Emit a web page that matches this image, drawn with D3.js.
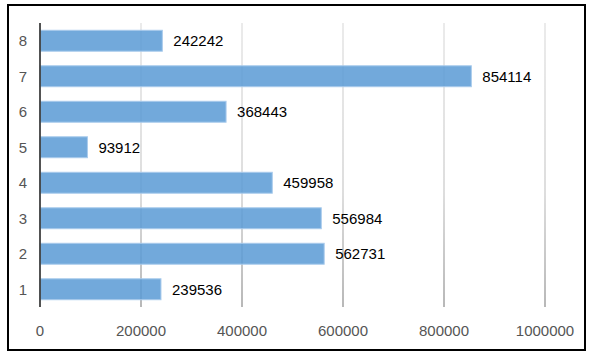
<!DOCTYPE html>
<html><head><meta charset="utf-8">
<script src="https://cdn.jsdelivr.net/npm/d3@7"></script>
<style>body{margin:0;background:#fff}svg{display:block}</style>
</head><body>
<svg id="c" width="604" height="355"></svg>
<script>
const categories = ["1","2","3","4","5","6","7","8"];
const values = [239536, 562731, 556984, 459958, 93912, 368443, 854114, 242242];
const xTicks = [0, 200000, 400000, 600000, 800000, 1000000];

const svg = d3.select("#c");
const font = "'Liberation Sans', Arial, sans-serif";
const x = d3.scaleLinear().domain([0, 1000000]).range([40, 545]);
const y = d3.scaleBand().domain(categories).range([307, 23]).paddingInner(0.41).paddingOuter(0.205);

const defs = svg.append("defs");
const g = defs.append("linearGradient").attr("id","gg").attr("gradientUnits","userSpaceOnUse")
  .attr("x1",0).attr("y1",23).attr("x2",0).attr("y2",307);
g.append("stop").attr("offset","0").attr("stop-color","#e4e4e4");
g.append("stop").attr("offset","0.6").attr("stop-color","#d2d2d2");
g.append("stop").attr("offset","1").attr("stop-color","#a0a0a0");

svg.append("rect").attr("x",8).attr("y",5).attr("width",577).attr("height",345)
  .attr("fill","#fff").attr("stroke","#000").attr("stroke-width",2);

// gridlines
svg.append("g").selectAll("line").data(xTicks.slice(1)).join("line")
  .attr("x1",d=>x(d)).attr("x2",d=>x(d)).attr("y1",23).attr("y2",307)
  .attr("stroke","url(#gg)").attr("stroke-width",1.5);

// bars
svg.append("g").selectAll("rect").data(values).join("rect")
  .attr("x", x(0)).attr("y",(d,i)=>y(categories[i]))
  .attr("width", d=>x(d)-x(0)).attr("height", y.bandwidth())
  .attr("fill","#5b9bd5").attr("fill-opacity",0.86)
  .attr("stroke","#a9cbec").attr("stroke-width",1);

// axis line
svg.append("line").attr("x1",x(0)).attr("x2",x(0)).attr("y1",23).attr("y2",307)
  .attr("stroke","#404040").attr("stroke-width",1.8);

// value labels
svg.append("g").selectAll("text").data(values).join("text")
  .attr("x", d=>x(d)+11).attr("y",(d,i)=>y(categories[i])+y.bandwidth()/2)
  .attr("dy","0.36em").attr("font-family",font).attr("font-size",15).attr("fill","#000")
  .text(d=>d);

// category labels
svg.append("g").selectAll("text").data(categories).join("text")
  .attr("x", 27).attr("y", d=>y(d)+y.bandwidth()/2).attr("dy","0.36em")
  .attr("text-anchor","end").attr("font-family",font).attr("font-size",15).attr("fill","#555")
  .text(d=>d);

// x tick labels
svg.append("g").selectAll("text").data(xTicks).join("text")
  .attr("x", d=>x(d)).attr("y", 336).attr("text-anchor","middle")
  .attr("font-family",font).attr("font-size",15).attr("fill","#555")
  .text(d=>d);
</script>
</body></html>
